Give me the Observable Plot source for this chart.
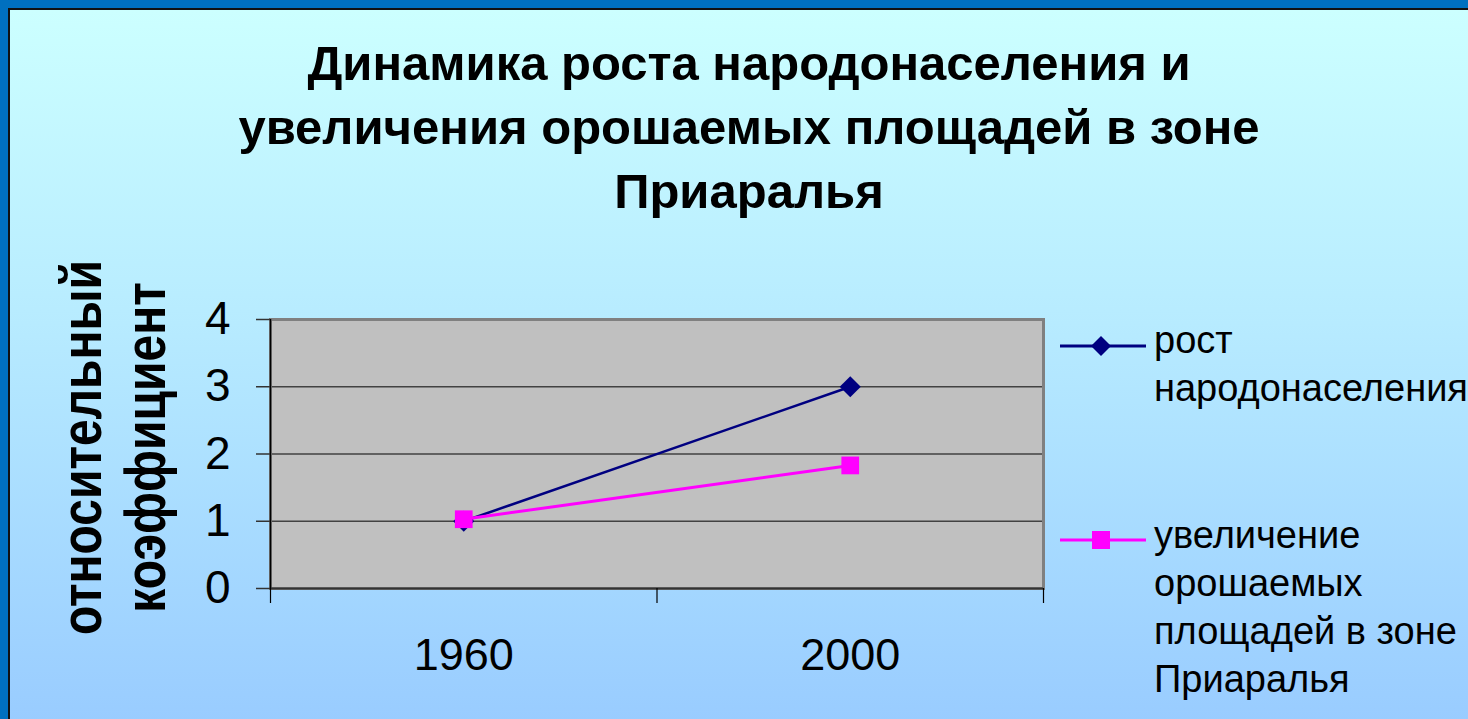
<!DOCTYPE html>
<html>
<head>
<meta charset="utf-8">
<script src="https://cdn.jsdelivr.net/npm/d3@7"></script>
<script src="https://cdn.jsdelivr.net/npm/@observablehq/plot@0.6"></script>
<style>
  html, body { margin: 0; padding: 0; }
  #slide { position: relative; width: 1468px; height: 719px; overflow: hidden; background: #0070C0; font-family: "Liberation Sans", Arial, sans-serif; }
  #inner { position: absolute; left: 8px; top: 8px; width: 1500px; height: 760px; border-top: 2px solid #111; border-left: 2px solid #111;
           background: linear-gradient(to bottom, #CCFFFF 0px, #B8ECFF 300px, #99CCFF 711px); }
  #chart { position: absolute; left: 0; top: 0; }
  #title { position: absolute; left: 30px; width: 1438px; top: 31px; text-align: center; font-weight: bold; font-size: 49px; line-height: 64px; color: #000; white-space: nowrap; }
  #ylabel { position: absolute; left: 114px; top: 447px; width: 0; height: 0; }
  #ylabel div { position: absolute; left: -300px; top: -52.5px; width: 600px; height: 105px; text-align: center; font-weight: bold; font-size: 48px; line-height: 52.5px; transform: rotate(-90deg) scaleY(1.2); white-space: nowrap; }
  .leg { position: absolute; left: 1058px; white-space: nowrap; }
  .leg svg { position: absolute; left: 0; }
  .leg .txt { position: absolute; left: 96px; top: 0; font-size: 38px; line-height: 48px; color: #000; }
</style>
</head>
<body>
<div id="slide">
  <div id="inner"></div>
  <div id="title"></div>
  <div id="ylabel"><div></div></div>
  <div id="chart"></div>
  <div id="legend"></div>
</div>
<script>
const titleLines = ["Динамика роста народонаселения и", "увеличения орошаемых площадей в зоне", "Приаралья"];
const yTitleLines = ["относительный", "коэффициент"];
const years = ["1960", "2000"];
const seriesNames = ["рост народонаселения", "увеличение орошаемых площадей в зоне Приаралья"];
const legendLines = [["рост", "народонаселения"], ["увеличение", "орошаемых", "площадей в зоне", "Приаралья"]];
const population = [1, 3];
const irrigation = [1.03, 1.83];
const yTicks = [0, 1, 2, 3, 4];
const colors = ["#000080", "#FF00FF"];
const symbols = ["diamond2", "square"];

document.getElementById("title").innerHTML = titleLines.join("<br>");
document.querySelector("#ylabel div").innerHTML = yTitleLines.join("<br>");

const rows = [];
[population, irrigation].forEach((vals, s) => {
  vals.forEach((v, i) => rows.push({series: seriesNames[s], idx: i + 0.5, year: years[i], value: v}));
});
const popRows = rows.filter(d => d.series === seriesNames[0]);
const irrRows = rows.filter(d => d.series === seriesNames[1]);

const chart = Plot.plot({
  width: 1468,
  height: 719,
  marginLeft: 270,
  marginRight: 425,
  marginTop: 319,
  marginBottom: 131,
  style: {background: "transparent", fontFamily: "'Liberation Sans', Arial, sans-serif", color: "#000", overflow: "visible"},
  x: {domain: [0, years.length], axis: null},
  y: {domain: [0, 4], axis: null},
  color: {domain: seriesNames, range: colors},
  symbol: {domain: seriesNames, range: symbols},
  marks: [
    Plot.frame({fill: "#C0C0C0"}),
    Plot.gridY([1, 2, 3], {stroke: "#222", strokeOpacity: 0.8, strokeWidth: 1.5}),
    Plot.frame({stroke: "#808080", strokeWidth: 3}),
    Plot.ruleY([0], {stroke: "#333", strokeWidth: 2}),
    Plot.ruleX([0], {stroke: "#000", strokeWidth: 1.5}),
    Plot.axisY({ticks: yTicks, tickFormat: d3.format("d"), tickSize: 14, tickPadding: 26, fontSize: 46, label: null, stroke: "#333", strokeWidth: 1.5}),
    Plot.axisX({ticks: d3.range(years.length + 1), tickFormat: () => "", tickSize: 15, label: null, strokeWidth: 1.2}),
    Plot.axisX({ticks: years.map((y, i) => i + 0.5), tickFormat: v => years[Math.floor(v)], tickSize: 0, tickPadding: 50, fontSize: 45, label: null}),
    Plot.line(popRows, {x: "idx", y: "value", stroke: "series", strokeWidth: 2.5}),
    Plot.line(irrRows, {x: "idx", y: "value", stroke: "series", strokeWidth: 3}),
    Plot.dot(popRows, {x: "idx", y: "value", symbol: "series", fill: "series", r: 9.5}),
    Plot.dot(irrRows, {x: "idx", y: "value", symbol: "series", fill: "series", r: 10})
  ]
});
document.getElementById("chart").appendChild(chart);

// legend
const legTops = [316, 511];
const legMarkY = [30, 29];
const legend = document.getElementById("legend");
legendLines.forEach((lines, s) => {
  const div = document.createElement("div");
  div.className = "leg";
  div.style.top = legTops[s] + "px";
  const sym = d3.symbol(d3[s === 0 ? "symbolDiamond2" : "symbolSquare"], s === 0 ? 256 : 324)();
  div.innerHTML = `<svg width="90" height="60"><line x1="2" x2="88" y1="${legMarkY[s]}" y2="${legMarkY[s]}" stroke="${colors[s]}" stroke-width="3"/>` +
    `<path d="${sym}" transform="translate(43,${legMarkY[s]})" fill="${colors[s]}"/></svg>` +
    `<div class="txt">${lines.join("<br>")}</div>`;
  legend.appendChild(div);
});
</script>
</body>
</html>
